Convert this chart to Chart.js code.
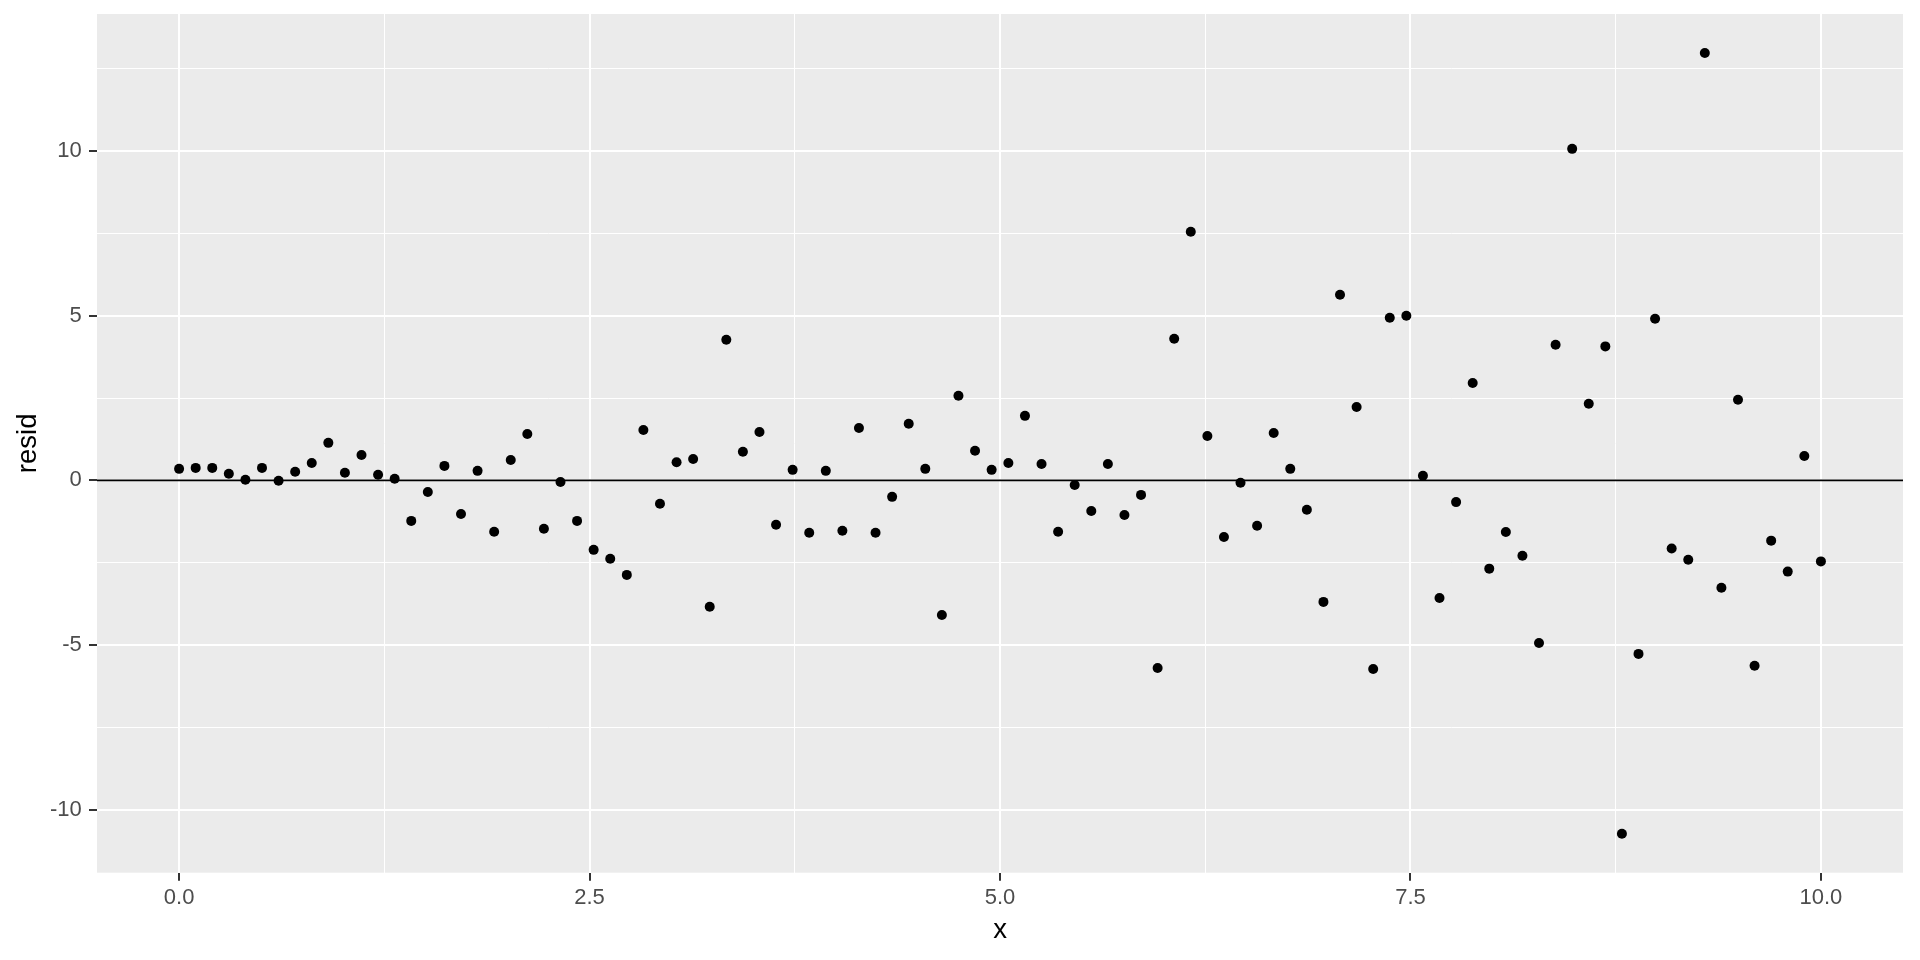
<!DOCTYPE html>
<html>
<head>
<meta charset="utf-8">
<script src="https://cdn.jsdelivr.net/npm/chart.js@4"></script>
<style>
  html, body { margin: 0; padding: 0; background: #ffffff; }
  #wrap { width: 1920px; height: 960px; }
</style>
</head>
<body>
<div id="wrap"><canvas id="c" width="1920" height="960"></canvas></div>
<script>
// ---- data ----
const xValues = [0, 0.101, 0.202, 0.303, 0.404, 0.505, 0.606, 0.707, 0.808, 0.909,
  1.010, 1.111, 1.212, 1.313, 1.414, 1.515, 1.616, 1.717, 1.818, 1.919,
  2.020, 2.121, 2.222, 2.323, 2.424, 2.525, 2.626, 2.727, 2.828, 2.929,
  3.030, 3.131, 3.232, 3.333, 3.434, 3.535, 3.636, 3.737, 3.838, 3.939,
  4.040, 4.141, 4.242, 4.343, 4.444, 4.545, 4.646, 4.747, 4.848, 4.949,
  5.051, 5.152, 5.253, 5.354, 5.455, 5.556, 5.657, 5.758, 5.859, 5.960,
  6.061, 6.162, 6.263, 6.364, 6.465, 6.566, 6.667, 6.768, 6.869, 6.970,
  7.071, 7.172, 7.273, 7.374, 7.475, 7.576, 7.677, 7.778, 7.879, 7.980,
  8.081, 8.182, 8.283, 8.384, 8.485, 8.586, 8.687, 8.788, 8.889, 8.990,
  9.091, 9.192, 9.293, 9.394, 9.495, 9.596, 9.697, 9.798, 9.899, 10];
const residValues = [0.35, 0.38, 0.38, 0.20, 0.02, 0.38, -0.01, 0.26, 0.53, 1.14,
  0.23, 0.77, 0.17, 0.05, -1.23, -0.35, 0.44, -1.02, 0.29, -1.56,
  0.62, 1.41, -1.47, -0.05, -1.23, -2.11, -2.38, -2.87, 1.53, -0.71,
  0.55, 0.65, -3.84, 4.27, 0.87, 1.47, -1.35, 0.32, -1.59, 0.29,
  -1.53, 1.59, -1.59, -0.50, 1.72, 0.35, -4.09, 2.57, 0.90, 0.32,
  0.53, 1.96, 0.50, -1.56, -0.14, -0.93, 0.50, -1.05, -0.44, -5.70,
  4.30, 7.55, 1.35, -1.72, -0.07, -1.38, 1.44, 0.35, -0.89, -3.69,
  5.64, 2.23, -5.73, 4.94, 5.00, 0.14, -3.57, -0.66, 2.96, -2.68,
  -1.57, -2.29, -4.94, 4.12, 10.07, 2.33, 4.07, -10.73, -5.27, 4.91,
  -2.07, -2.41, 12.98, -3.26, 2.45, -5.63, -1.83, -2.77, 0.74, -2.46];
const hlineY = 0;
const xMajorTicks = [0, 2.5, 5, 7.5, 10];
const xMinorTicks = [1.25, 3.75, 6.25, 8.75];
const yMajorTicks = [-10, -5, 0, 5, 10];
const yMinorTicks = [-7.5, -2.5, 2.5, 7.5, 12.5];
const xTitle = 'x';
const yTitle = 'resid';

// ---- scale limits (ggplot-style 5% expansion) ----
function expand(arr) {
  const lo = Math.min(...arr), hi = Math.max(...arr), r = hi - lo;
  return [lo - 0.05 * r, hi + 0.05 * r];
}
const [xLo, xHi] = expand(xValues);
const [yLo, yHi] = expand(residValues);

const isMajor = (list, v) => list.some(m => Math.abs(m - v) < 1e-9);
const tickList = (major, minor, lo, hi) =>
  major.concat(minor).filter(v => v >= lo && v <= hi).sort((a, b) => a - b).map(v => ({ value: v }));

const FONT = '"Liberation Sans", Arial, Helvetica, sans-serif';
Chart.defaults.font.family = FONT;

const panelBg = {
  id: 'panelBg',
  beforeDraw(chart) {
    const { ctx, chartArea: a } = chart;
    ctx.save();
    ctx.fillStyle = '#ebebeb';
    ctx.fillRect(a.left, a.top, a.right - a.left, a.bottom - a.top);
    ctx.restore();
  }
};

const points = xValues.map((x, i) => ({ x: x, y: residValues[i] }));

new Chart(document.getElementById('c'), {
  type: 'scatter',
  data: {
    datasets: [
      {
        type: 'scatter',
        data: points,
        pointRadius: 5,
        pointHoverRadius: 5,
        pointBorderWidth: 0,
        pointBackgroundColor: '#000000',
        pointBorderColor: '#000000',
        order: 2
      },
      {
        type: 'line',
        data: [{ x: xLo, y: hlineY }, { x: xHi, y: hlineY }],
        borderColor: '#000000',
        borderWidth: 1.9,
        pointRadius: 0,
        fill: false,
        order: 1
      }
    ]
  },
  options: {
    responsive: false,
    devicePixelRatio: 1,
    animation: false,
    layout: { padding: { left: 0, top: 14, right: 17, bottom: 0 } },
    plugins: { legend: { display: false }, tooltip: { enabled: false } },
    scales: {
      x: {
        type: 'linear',
        position: 'bottom',
        min: xLo,
        max: xHi,
        afterBuildTicks: s => { s.ticks = tickList(xMajorTicks, xMinorTicks, xLo, xHi); },
        afterFit: s => { s.height = 87.3; s.paddingLeft = 0; s.paddingRight = 0; },
        border: { display: false },
        grid: {
          color: '#ffffff',
          lineWidth: c => (c.tick && isMajor(xMajorTicks, c.tick.value)) ? 2 : 1,
          drawTicks: true,
          tickLength: 8,
          tickColor: c => (c.tick && isMajor(xMajorTicks, c.tick.value)) ? '#333333' : 'rgba(0,0,0,0)',
          tickWidth: c => (c.tick && isMajor(xMajorTicks, c.tick.value)) ? 2 : 1
        },
        ticks: {
          autoSkip: false,
          maxRotation: 0,
          minRotation: 0,
          padding: 4.2,
          color: '#4d4d4d',
          font: { size: 22, family: FONT },
          callback: v => isMajor(xMajorTicks, v) ? Number(v).toFixed(1) : ''
        },
        title: {
          display: true,
          text: xTitle,
          color: '#000000',
          font: { size: 27.5, family: FONT },
          padding: { top: 0, bottom: 13.2 }
        }
      },
      y: {
        type: 'linear',
        position: 'left',
        min: yLo,
        max: yHi,
        afterBuildTicks: s => { s.ticks = tickList(yMajorTicks, yMinorTicks, yLo, yHi); },
        afterFit: s => { s.width = 97; s.paddingTop = 0; s.paddingBottom = 0; },
        border: { display: false },
        grid: {
          color: '#ffffff',
          lineWidth: c => (c.tick && isMajor(yMajorTicks, c.tick.value)) ? 2 : 1,
          drawTicks: true,
          tickLength: 8,
          tickColor: c => (c.tick && isMajor(yMajorTicks, c.tick.value)) ? '#333333' : 'rgba(0,0,0,0)',
          tickWidth: c => (c.tick && isMajor(yMajorTicks, c.tick.value)) ? 2 : 1
        },
        ticks: {
          autoSkip: false,
          padding: 7.3,
          color: '#4d4d4d',
          font: { size: 22, family: FONT },
          callback: v => isMajor(yMajorTicks, v) ? String(v) : ''
        },
        title: {
          display: true,
          text: yTitle,
          color: '#000000',
          font: { size: 27.5, family: FONT },
          padding: { top: 11.7, bottom: 0 }
        }
      }
    }
  },
  plugins: [panelBg]
});
</script>
</body>
</html>
